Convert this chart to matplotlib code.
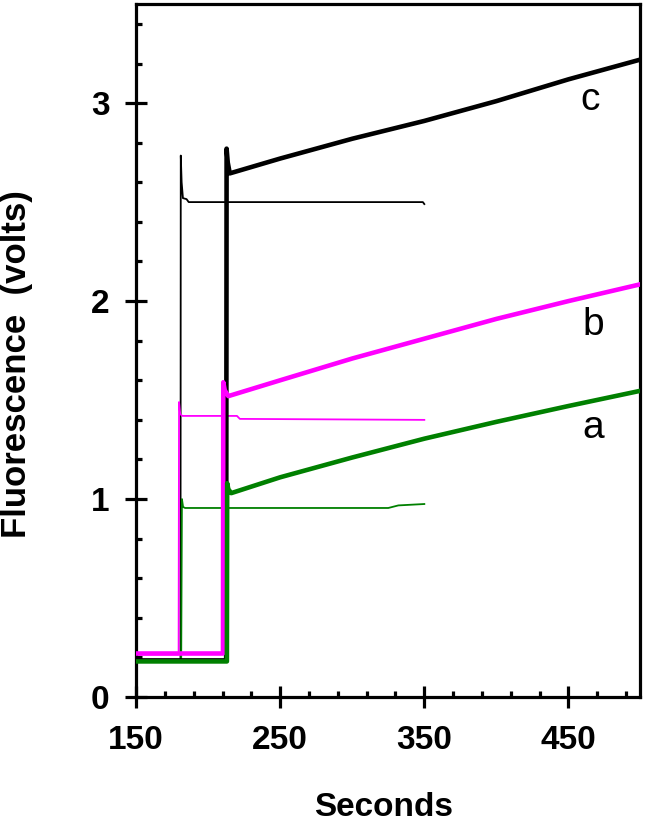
import matplotlib
matplotlib.use("Agg")
import matplotlib.pyplot as plt

plt.rcParams['font.family'] = ['Liberation Sans', 'DejaVu Sans']

# ---- data ----
# thick traces (added at ~212 s, run to 500 s)
c_thick_t = [150, 212.5, 212.8, 213.6, 215, 250, 300, 350, 400, 450, 500]
c_thick_v = [0.185, 0.185, 2.77, 2.70, 2.645, 2.72, 2.82, 2.91, 3.01, 3.12, 3.22]

b_thick_t = [150, 210.3, 210.5, 211.5, 214, 250, 300, 350, 400, 450, 500]
b_thick_v = [0.22, 0.22, 1.59, 1.55, 1.52, 1.60, 1.71, 1.81, 1.91, 2.00, 2.085]

a_thick_t = [150, 213, 213.2, 214, 216, 250, 300, 350, 400, 450, 500]
a_thick_v = [0.18, 0.18, 1.08, 1.05, 1.03, 1.11, 1.21, 1.305, 1.39, 1.47, 1.547]

# thin traces (added at ~180 s, run to 350 s)
c_thin_t = [150, 180.8, 181.0, 181.6, 182.5, 185, 186.5, 190, 349, 350]
c_thin_v = [0.185, 0.185, 2.735, 2.60, 2.52, 2.515, 2.50, 2.50, 2.50, 2.49]

b_thin_t = [150, 179.5, 179.8, 180.6, 182, 220, 222, 350]
b_thin_v = [0.215, 0.215, 1.49, 1.43, 1.42, 1.42, 1.405, 1.40]

a_thin_t = [150, 181.3, 181.8, 182.6, 184, 325, 332, 350]
a_thin_v = [0.18, 0.18, 1.00, 0.96, 0.955, 0.955, 0.968, 0.975]

labels = ["a", "b", "c"]
label_x = [467, 467, 465]
label_y = [1.36, 1.88, 3.015]

x_major = [150, 250, 350, 450]
x_minor = list(range(150, 501, 20))
y_major = [0, 1, 2, 3]
y_minor = [i * 0.2 for i in range(18)]

green = "#008000"
magenta = "#FF00FF"
black = "#000000"

fig = plt.figure(figsize=(6.45, 8.22), dpi=100)
ax = fig.add_axes([0.211, 0.152, 0.782, 0.843])

thin_lw = 1.3
thick_lw = 3.3
ax.plot(c_thin_t, c_thin_v, color=black, lw=thin_lw, zorder=2)
ax.plot(b_thin_t, b_thin_v, color=magenta, lw=thin_lw, zorder=2)
ax.plot(a_thin_t, a_thin_v, color=green, lw=thin_lw, zorder=2)
ax.plot(c_thick_t, c_thick_v, color=black, lw=thick_lw, zorder=3)
ax.plot(b_thick_t, b_thick_v, color=magenta, lw=thick_lw, zorder=3)
ax.plot(a_thick_t, a_thick_v, color=green, lw=thick_lw, zorder=4)

for lab, lx, ly in zip(labels, label_x, label_y):
    ax.text(lx, ly, lab, fontsize=28, ha="center", va="center", color="black")

ax.set_xlim(150, 500)
ax.set_ylim(0, 3.5)
ax.set_xticks(x_major)
ax.set_xticks(x_minor, minor=True)
ax.set_yticks(y_major)
ax.set_yticks(y_minor, minor=True)

for s in ax.spines.values():
    s.set_linewidth(2.3)

ax.tick_params(axis="x", which="major", direction="inout", length=16, width=2.3,
               labelsize=24, pad=12)
ax.tick_params(axis="y", which="major", direction="inout", length=16, width=2.3,
               labelsize=24, pad=11)
ax.tick_params(which="minor", direction="in", length=4.5, width=2.3)
for lab in ax.get_xticklabels() + ax.get_yticklabels():
    lab.set_fontweight("bold")

ax.set_xlabel("Seconds", fontsize=24, fontweight="bold")
ax.set_ylabel("Fluorescence  (volts)", fontsize=25, fontweight="bold")
ax.xaxis.set_label_coords(0.49, -0.137)
ax.yaxis.set_label_coords(-0.205, 0.48)

fig.savefig("out.png", dpi=100)
